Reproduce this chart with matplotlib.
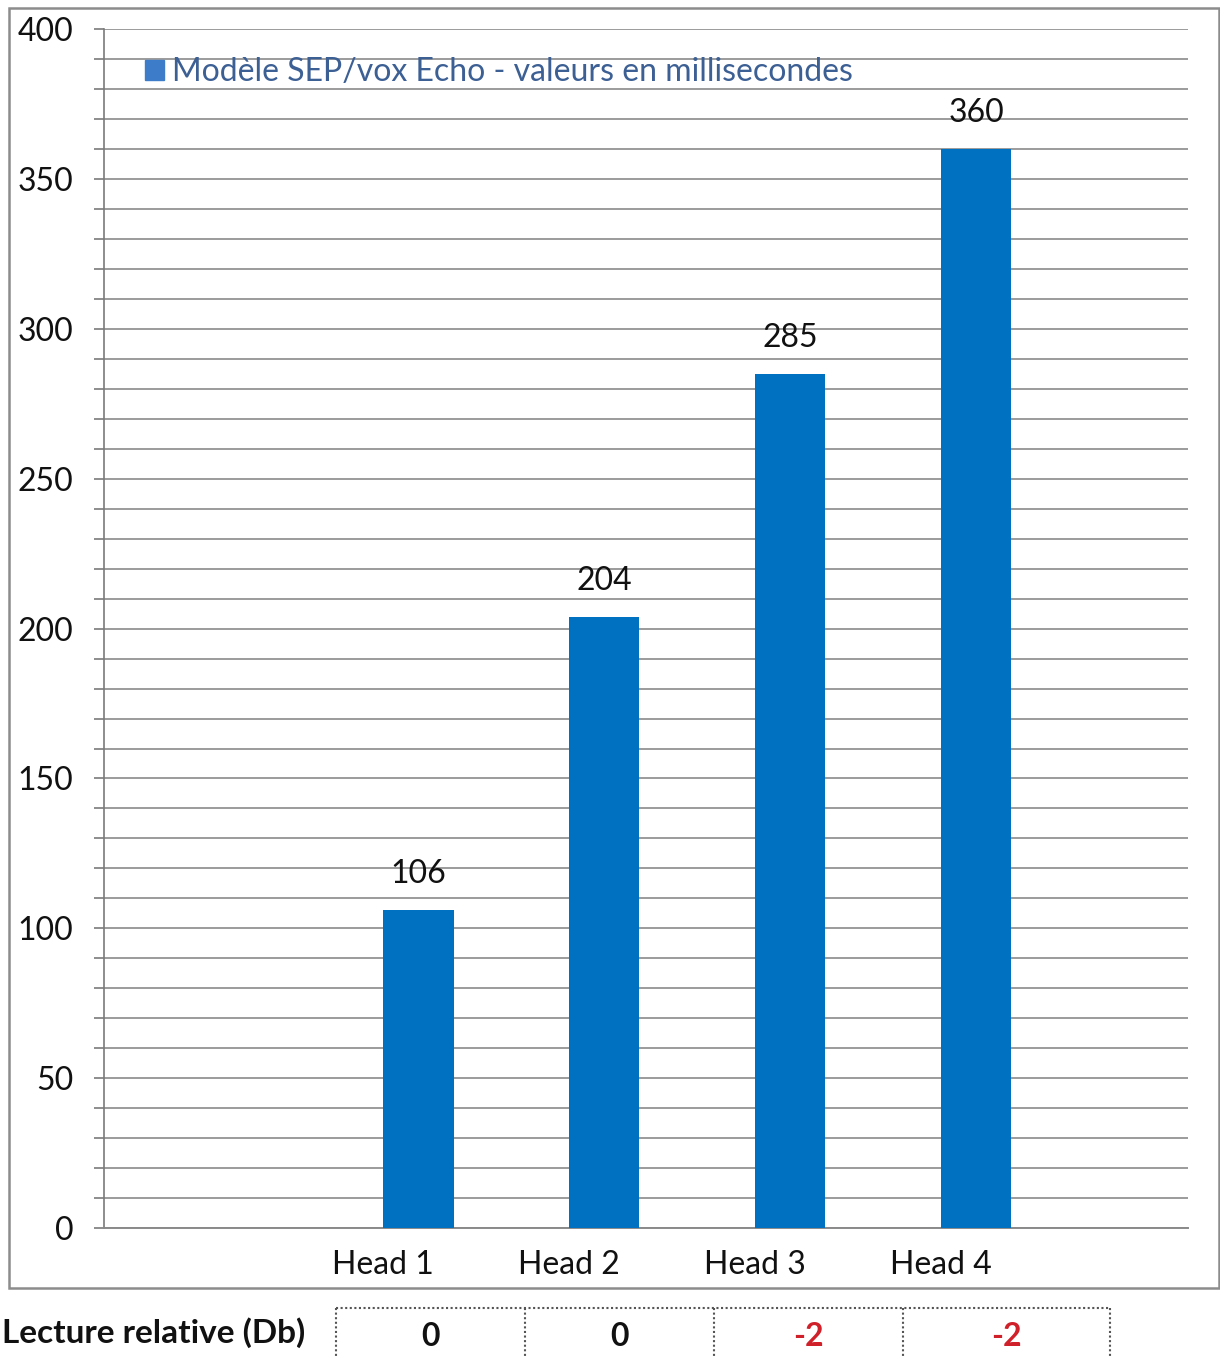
import matplotlib
matplotlib.use("Agg")
import matplotlib.pyplot as plt
from matplotlib.patches import Rectangle
from matplotlib.lines import Line2D
from matplotlib.ticker import MultipleLocator

# ---- data ----
categories = ["Head 1", "Head 2", "Head 3", "Head 4"]
values = [106, 204, 285, 360]
series_label = "Modèle SEP/vox Echo - valeurs en millisecondes"
table_title = "Lecture relative (Db)"
db_values = [0, 0, -2, -2]

plt.rcParams['font.family'] = ['Lato', 'DejaVu Sans']

W, H = 1220, 1358
fig = plt.figure(figsize=(W / 100, H / 100), dpi=100)

def fx(px):
    return px / W

def fy(py):
    return 1 - py / H

# outer chart frame
fig.patches.append(Rectangle((fx(9), fy(1288)), fx(1219) - fx(9), fy(8) - fy(1288),
                             transform=fig.transFigure, fill=False,
                             edgecolor="#8c8c8c", linewidth=1.8))

ax = fig.add_axes([fx(104), fy(1228), fx(1188) - fx(104), fy(29.3) - fy(1228)])

x = list(range(1, len(categories) + 1))
bars = ax.bar(x, values, width=0.38, align='edge', color="#0070C0",
              label=series_label, zorder=3)

ax.set_xlim(-0.5, 5.33)
ax.set_ylim(0, 400)
ax.yaxis.set_major_locator(MultipleLocator(50))
ax.yaxis.set_minor_locator(MultipleLocator(10))
ax.grid(axis='y', which='both', color="#8a8a8a", linewidth=1.2, zorder=0)
ax.set_xticks(x)
ax.set_xticklabels(categories)
ax.tick_params(axis='x', length=0, pad=16, labelsize=23, labelcolor="#111111")
ax.tick_params(axis='y', which='both', direction='out', length=7, width=1.2,
               color="#7a7a7a", pad=15, labelsize=23, labelcolor="#111111")

for s in ['top', 'right']:
    ax.spines[s].set_visible(False)
ax.spines['left'].set_color("#7a7a7a")
ax.spines['left'].set_linewidth(1.2)
ax.spines['bottom'].set_color("#8a8a8a")
ax.spines['bottom'].set_linewidth(1.4)

for b, v in zip(bars, values):
    ax.annotate(str(v), (b.get_x() + b.get_width() / 2, v), xytext=(0, 26),
                textcoords='offset points', ha='center', va='center',
                fontsize=23, color="#111111")

ax.legend(loc='center left', bbox_to_anchor=(0.038, 0.964), frameon=False,
          fontsize=23, labelcolor="#3c5f94", handlelength=0.58, handleheight=0.58,
          handletextpad=0.25, borderpad=0, borderaxespad=0)
leg = ax.get_legend()
leg.legend_handles[0].set_color("#3d7cc9")

# bottom table
fig.text(fx(2), fy(1333), table_title, ha='left', va='center',
         fontsize=24, fontweight='bold', color="#111111")
edges = [336, 525, 714, 903, 1110]
top = 1308
fig.add_artist(Line2D([fx(edges[0]), fx(edges[-1])], [fy(top), fy(top)],
                      transform=fig.transFigure, color="#555555",
                      linestyle=(0, (1, 1.2)), linewidth=1.5))
for e in edges:
    fig.add_artist(Line2D([fx(e), fx(e)], [fy(top), fy(H + 2)],
                          transform=fig.transFigure, color="#555555",
                          linestyle=(0, (1, 1.2)), linewidth=1.5))
for i, v in enumerate(db_values):
    cx = (edges[i] + edges[i + 1]) / 2
    fig.text(fx(cx), fy(1337), str(v), ha='center', va='center',
             fontsize=23, fontweight='bold',
             color="#d0202a" if v < 0 else "#111111")

fig.savefig("out.png", dpi=100)
